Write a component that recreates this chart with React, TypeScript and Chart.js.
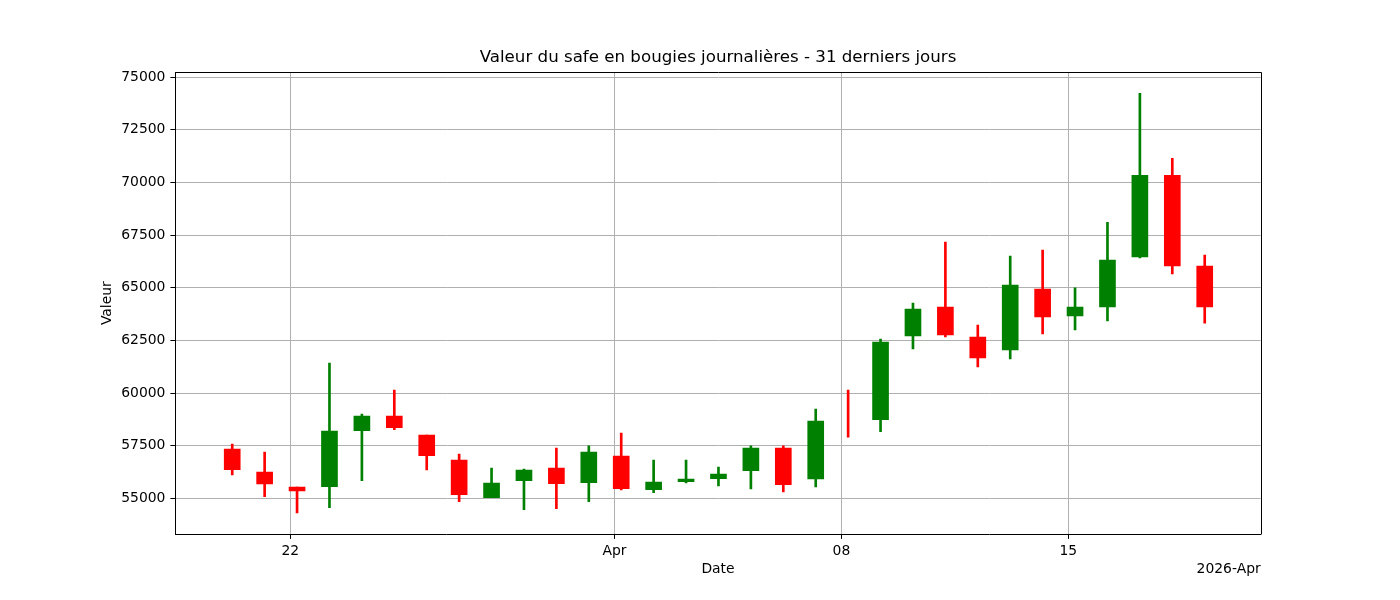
import React, { useEffect, useRef } from 'react';
import { Chart, registerables } from 'chart.js';

Chart.register(...registerables);

// ---- Data ----
const dates = [
  '2026-03-20', '2026-03-21', '2026-03-22', '2026-03-23', '2026-03-24', '2026-03-25', '2026-03-26',
  '2026-03-27', '2026-03-28', '2026-03-29', '2026-03-30', '2026-03-31', '2026-04-01', '2026-04-02',
  '2026-04-03', '2026-04-04', '2026-04-05', '2026-04-06', '2026-04-07', '2026-04-08', '2026-04-09',
  '2026-04-10', '2026-04-11', '2026-04-12', '2026-04-13', '2026-04-14', '2026-04-15', '2026-04-16',
  '2026-04-17', '2026-04-18', '2026-04-19',
];
const opens = [
  57340, 56248, 55536, 55551, 58208, 58906, 58004, 56818, 55028, 55835, 56438, 55740, 57008, 55408,
  55788, 55930, 56310, 57387, 55916, 57940, 58730, 62717, 64079, 62655, 62053, 64934, 63666, 64093,
  66467, 70344, 66025,
];
const highs = [
  57577, 57197, 55536, 61421, 59001, 60140, 58004, 57102, 56438, 56391, 57387, 57496, 58099, 56818,
  56818, 56486, 57496, 57496, 59238, 60140, 62560, 64269, 67164, 63225, 66509, 66784, 64995, 68113,
  74236, 71151, 66547,
];
const lows = [
  56106, 55076, 54302, 54554, 55835, 58256, 56343, 54839, 55028, 54459, 54506, 54839, 55394, 55266,
  55726, 55584, 55441, 55299, 55536, 57909, 58161, 62100, 62670, 61246, 61626, 62812, 63002, 63429,
  66419, 65660, 63320,
];
const closes = [
  56357, 55679, 55346, 58194, 58906, 58351, 57022, 55171, 55726, 56343, 55693, 57197, 55456, 55774,
  55916, 56153, 57387, 55645, 58669, 57940, 62418, 63984, 62764, 61673, 65133, 63619, 64079, 66310,
  70344, 66039, 64093,
];
const candleHour = 5; // time of day of each daily candle

const xTickDates = ['2026-03-22', '2026-04-01', '2026-04-08', '2026-04-15'];
const xTickLabels = ['22', 'Apr', '08', '15'];
const yTicks = [55000, 57500, 60000, 62500, 65000, 67500, 70000, 72500, 75000];

const titleText = 'Valeur du safe en bougies journalières - 31 derniers jours';
const xLabel = 'Date';
const yLabel = 'Valeur';
const xOffsetLabel = '2026-Apr';

const UP = '#008000';
const DOWN = '#ff0000';
const FONT = '"DejaVu Sans", sans-serif';

const DAY_MS = 86400000;
const REF = Date.parse('2026-03-22T00:00:00Z');
const toDay = (d: string, hour = 0) => (Date.parse(d + 'T00:00:00Z') - REF) / DAY_MS + hour / 24;

export default function App() {
  const canvasRef = useRef<HTMLCanvasElement | null>(null);

  useEffect(() => {
    const canvas = canvasRef.current;
    if (!canvas) return;

    const xs = dates.map((d) => toDay(d, candleHour));
    const colors = opens.map((o, i) => (closes[i] > o ? UP : DOWN));
    const wickData = xs.map((x, i) => ({ x, y: [lows[i], highs[i]] }));
    const bodyData = xs.map((x, i) => ({
      x,
      y: opens[i] === closes[i] ? null : [opens[i], closes[i]],
    }));

    const lo = Math.min(...lows);
    const hi = Math.max(...highs);
    const span = hi - lo;
    const yMin = lo - 0.05 * span;
    const yMax = hi + 0.05 * span;
    const xMin = xs[0] - 1.756;
    const xMax = xs[xs.length - 1] + 1.727;

    const framePlugin = {
      id: 'frame',
      afterDraw(chart: any) {
        const { ctx, chartArea } = chart;
        const { left, right, top, bottom } = chartArea;
        ctx.save();
        ctx.strokeStyle = '#000';
        ctx.lineWidth = 1;
        ctx.beginPath();
        ctx.moveTo(Math.round(left) + 0.5, Math.round(top) + 0.5);
        ctx.lineTo(Math.round(right) + 0.5, Math.round(top) + 0.5);
        ctx.lineTo(Math.round(right) + 0.5, Math.round(bottom) + 0.5);
        ctx.stroke();
        ctx.fillStyle = '#000';
        ctx.font = '13.9px ' + FONT;
        ctx.textAlign = 'right';
        ctx.textBaseline = 'alphabetic';
        ctx.fillText(xOffsetLabel, right, bottom + 38.7);
        ctx.restore();
      },
    };

    const chart = new Chart(canvas, {
      type: 'bar',
      data: {
        datasets: [
          {
            label: 'wick',
            data: wickData as any,
            backgroundColor: colors,
            barThickness: 2,
            grouped: false,
            order: 2,
          } as any,
          {
            label: 'body',
            data: bodyData as any,
            backgroundColor: colors,
            barThickness: 16,
            grouped: false,
            order: 1,
          } as any,
        ],
      },
      options: {
        animation: false,
        responsive: false,
        devicePixelRatio: 1,
        layout: { padding: { top: 47.5, left: 99.16, right: 139.3, bottom: 22.16 } },
        plugins: {
          legend: { display: false },
          tooltip: { enabled: false },
          title: {
            display: true,
            text: titleText,
            fullSize: false,
            color: '#000',
            font: { family: FONT, size: 16.67, weight: 'normal' as any, lineHeight: 1.2 },
            padding: { top: 0, bottom: 4.8 },
          },
        },
        scales: {
          x: {
            type: 'linear',
            min: xMin,
            max: xMax,
            offset: false,
            z: 1,
            afterFit: (scale: any) => {
              scale.height = 43.84;
            },
            afterBuildTicks: (scale: any) => {
              scale.ticks = xTickDates.map((d) => ({ value: toDay(d) }));
            },
            ticks: {
              autoSkip: false,
              maxRotation: 0,
              color: '#000',
              padding: 4.3,
              font: { family: FONT, size: 13.9 },
              callback: (_v: any, i: number) => xTickLabels[i],
            },
            grid: { color: '#b0b0b0', lineWidth: 1, tickColor: '#000', tickLength: 4.9, offset: false },
            border: { color: '#000', width: 1 },
            title: {
              display: true,
              text: xLabel,
              color: '#000',
              font: { family: FONT, size: 13.9, lineHeight: 1.2 },
              padding: { top: 0, bottom: 0 },
            },
          },
          y: {
            type: 'linear',
            min: yMin,
            max: yMax,
            z: 1,
            afterFit: (scale: any) => {
              scale.width = 76.14;
            },
            afterBuildTicks: (scale: any) => {
              scale.ticks = yTicks.map((v) => ({ value: v }));
            },
            ticks: {
              color: '#000',
              padding: 5,
              font: { family: FONT, size: 13.9 },
              callback: (v: any) => String(v),
            },
            grid: { color: '#b0b0b0', lineWidth: 1, tickColor: '#000', tickLength: 4.9 },
            border: { color: '#000', width: 1 },
            title: {
              display: true,
              text: yLabel,
              color: '#000',
              font: { family: FONT, size: 13.9, lineHeight: 1.2 },
              padding: { top: 0, bottom: 0 },
            },
          },
        },
      },
      plugins: [framePlugin],
    });

    return () => {
      chart.destroy();
    };
  }, []);

  return (
    <div style={{ position: 'absolute', left: 0, top: 0, width: 1400, height: 600, background: '#fff' }}>
      <canvas ref={canvasRef} width={1400} height={600} style={{ display: 'block' }} />
    </div>
  );
}
